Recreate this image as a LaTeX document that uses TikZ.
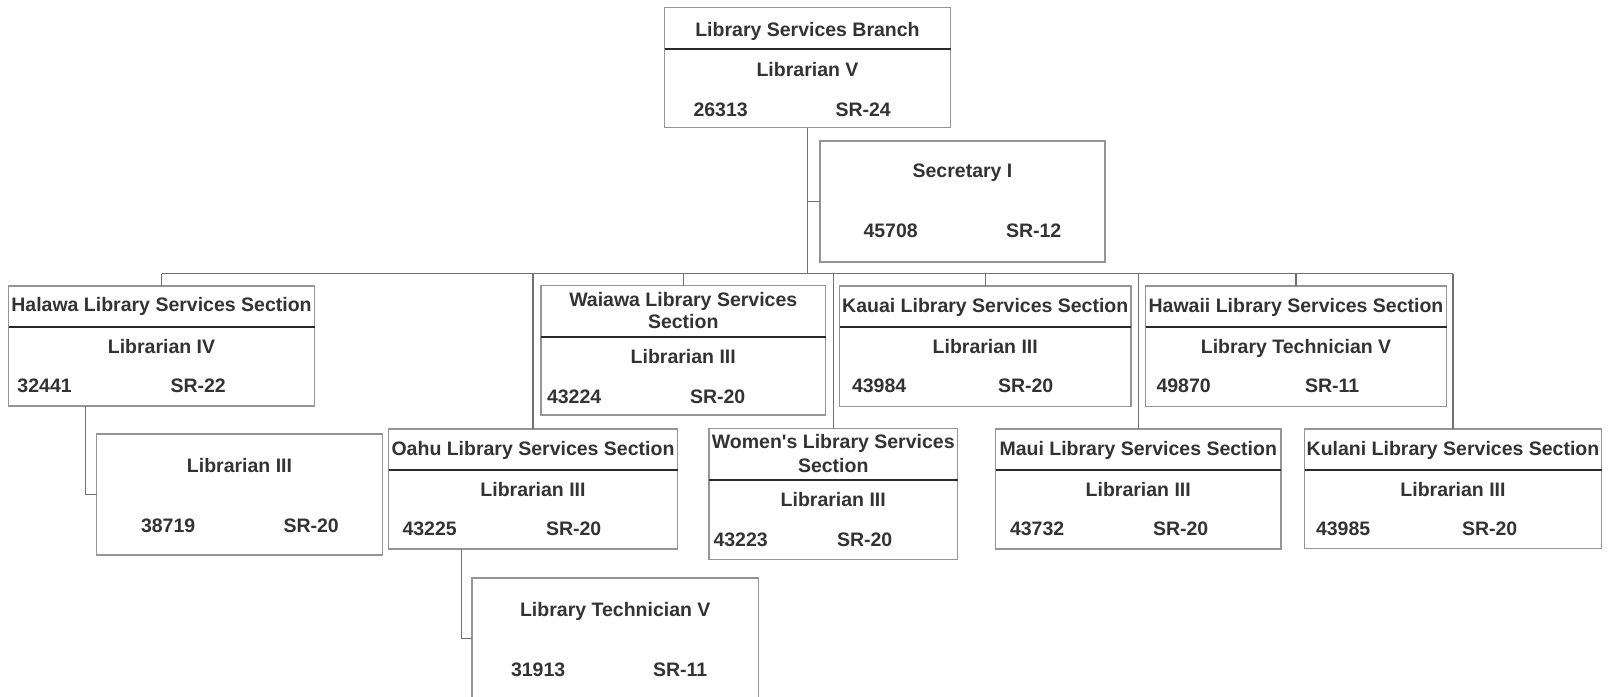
\documentclass[tikz,border=0pt]{standalone}
\usepackage{fontspec}
\setmainfont{Liberation Sans}[Ligatures=TeXOff]
\usetikzlibrary{fit}
\definecolor{boxgray}{HTML}{959595}
\definecolor{divgray}{HTML}{2A2A2A}
\definecolor{conngray}{HTML}{707070}
\definecolor{txtgray}{HTML}{333333}
\tikzset{
  box/.style={draw=boxgray, line width=0.55pt, inner sep=0pt, outer sep=0pt},
  txt/.style={inner sep=0pt, outer sep=0pt, text=txtgray, font=\bfseries\fontsize{9.75}{11.7}\selectfont, anchor=base},
  num/.style={txt, anchor=base west},
  divline/.style={draw=divgray, line width=0.65pt},
  conn/.style={draw=conngray, line width=0.55pt},
}
\begin{document}
\begin{tikzpicture}[x=0.5pt, y=-0.5pt]
\useasboundingbox (0,0) rectangle (1610,696);
\clip (0,0) rectangle (1610,696);
\fill[white] (0,0) rectangle (1610,696);

% boxes
\node[box, fit={(664.5,7.5) (950.5,127.5)}] (top) {};
\node[box, fit={(820,141) (1105,262)}] (sec) {};
\node[box, fit={(8.5,286) (314.5,406)}] (halawa) {};
\node[box, fit={(541,285.5) (825.5,415)}] (waiawa) {};
\node[box, fit={(839.5,286) (1131,406.5)}] (kauai) {};
\node[box, fit={(1145.5,286) (1446.5,406.5)}] (hawaii) {};
\node[box, fit={(96.5,434) (382.5,555)}] (hchild) {};
\node[box, fit={(388.5,429) (677.5,549)}] (oahu) {};
\node[box, fit={(709,428.5) (957.5,559.5)}] (women) {};
\node[box, fit={(995.5,429) (1281,549)}] (maui) {};
\node[box, fit={(1304.5,429) (1601.5,548.5)}] (kulani) {};
\node[box, fit={(472,578) (758.5,699)}] (ochild) {};

% dividers
\draw[divline] (top.west |- 0,49) -- (top.east |- 0,49);
\draw[divline] (halawa.west |- 0,327) -- (halawa.east |- 0,327);
\draw[divline] (waiawa.west |- 0,337) -- (waiawa.east |- 0,337);
\draw[divline] (kauai.west |- 0,327) -- (kauai.east |- 0,327);
\draw[divline] (hawaii.west |- 0,327) -- (hawaii.east |- 0,327);
\draw[divline] (oahu.west |- 0,470) -- (oahu.east |- 0,470);
\draw[divline] (women.west |- 0,480) -- (women.east |- 0,480);
\draw[divline] (maui.west |- 0,470) -- (maui.east |- 0,470);
\draw[divline] (kulani.west |- 0,470) -- (kulani.east |- 0,470);

% connectors
\coordinate (bus) at (807.5,273.5);
\draw[conn] (top.south) -- (top.south |- bus);
\draw[conn] (top.south |- sec.west) -- (sec.west);
\draw[conn] (halawa.north |- bus) -- (kulani.north |- bus);
\foreach \n in {halawa,waiawa,kauai,hawaii,oahu,women,maui,kulani}
  \draw[conn] (\n.north |- bus) -- (\n.north);
\draw[conn] ([xshift=38.5pt]halawa.south west) |- (hchild.west);
\draw[conn] ([xshift=36.6pt]oahu.south west) |- (ochild.west);

% texts: top
\node[txt] (top-t) at (807.5,36) {Library Services Branch};
\node[txt] (top-p) at (807.5,76) {Librarian V};
\node[num] (top-n) at (693.5,116) {26313};
\node[num] (top-s) at (835.5,116) {SR-24};
% secretary
\node[txt] (sec-p) at (962.5,177.5) {Secretary I};
\node[num] (sec-n) at (863.5,237.5) {45708};
\node[num] (sec-s) at (1006,237.5) {SR-12};
% halawa
\node[txt] (halawa-t) at (161.5,311.5) {Halawa Library Services Section};
\node[txt] (halawa-p) at (161.5,353) {Librarian IV};
\node[num] (halawa-n) at (17.5,392) {32441};
\node[num] (halawa-s) at (170.5,392) {SR-22};
% waiawa
\node[txt] (waiawa-t1) at (683.25,306) {Waiawa Library Services};
\node[txt] (waiawa-t2) at (683.25,328.5) {Section};
\node[txt] (waiawa-p) at (683.25,363.5) {Librarian III};
\node[num] (waiawa-n) at (547,403.5) {43224};
\node[num] (waiawa-s) at (690,403.5) {SR-20};
% kauai
\node[txt] (kauai-t) at (985.25,312) {Kauai Library Services Section};
\node[txt] (kauai-p) at (985.25,353) {Librarian III};
\node[num] (kauai-n) at (852,392.5) {43984};
\node[num] (kauai-s) at (998,392.5) {SR-20};
% hawaii
\node[txt] (hawaii-t) at (1296,312) {Hawaii Library Services Section};
\node[txt] (hawaii-p) at (1296,353) {Library Technician V};
\node[num] (hawaii-n) at (1156.5,392.5) {49870};
\node[num] (hawaii-s) at (1305,392.5) {SR-11};
% halawa child
\node[txt] (hchild-p) at (239.5,472) {Librarian III};
\node[num] (hchild-n) at (141,532) {38719};
\node[num] (hchild-s) at (283.5,532) {SR-20};
% oahu
\node[txt] (oahu-t) at (533,455) {Oahu Library Services Section};
\node[txt] (oahu-p) at (533,496) {Librarian III};
\node[num] (oahu-n) at (402.5,535) {43225};
\node[num] (oahu-s) at (546,535) {SR-20};
% women
\node[txt] (women-t1) at (833.25,448.5) {Women's Library Services};
\node[txt] (women-t2) at (833.25,472) {Section};
\node[txt] (women-p) at (833.25,506) {Librarian III};
\node[num] (women-n) at (713.5,546) {43223};
\node[num] (women-s) at (837,546) {SR-20};
% maui
\node[txt] (maui-t) at (1138.25,455) {Maui Library Services Section};
\node[txt] (maui-p) at (1138.25,496) {Librarian III};
\node[num] (maui-n) at (1010,535) {43732};
\node[num] (maui-s) at (1153,535) {SR-20};
% kulani
\node[txt] (kulani-t) at (1453,455) {Kulani Library Services Section};
\node[txt] (kulani-p) at (1453,496) {Librarian III};
\node[num] (kulani-n) at (1316,535) {43985};
\node[num] (kulani-s) at (1462,535) {SR-20};
% oahu child
\node[txt] (ochild-p) at (615.25,616) {Library Technician V};
\node[num] (ochild-n) at (511,676) {31913};
\node[num] (ochild-s) at (653,676) {SR-11};
\end{tikzpicture}
\end{document}
